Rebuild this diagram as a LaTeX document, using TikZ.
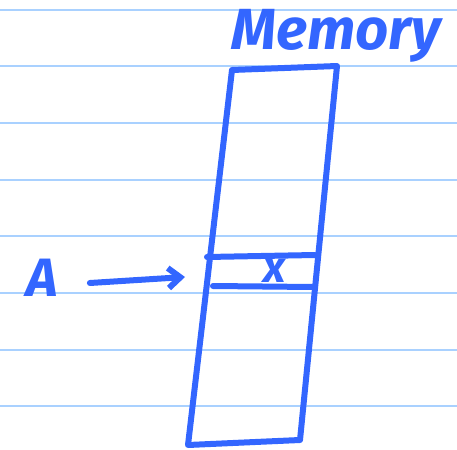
\documentclass[tikz,border=0pt]{standalone}
\usepackage{fontspec}
\newfontfamily\handfont{Fira Sans}
\usetikzlibrary{arrows.meta, positioning, calc}
\definecolor{inkblue}{HTML}{3366FF}
\definecolor{ruleblue}{HTML}{A9D1FF}

\begin{document}
\begin{tikzpicture}[x=1pt, y=-1pt, line cap=round, line join=round,
    ink/.style={inkblue, line width=6pt},
    hand/.style={inkblue, inner sep=0pt}]
  \useasboundingbox (0,0) rectangle (457,449);
  % ruled paper
  \foreach \y in {10, 66.5, 123, 179.5, 236, 293, 349.5, 406}
    \draw[ruleblue, line width=2pt] (0,\y) -- (457,\y);
  % memory column
  \coordinate (tl) at (232,70);
  \coordinate (tr) at (337,66);
  \coordinate (br) at (300,440);
  \coordinate (bl) at (188,445);
  \draw[ink] (tl) -- (tr) -- (br) -- (bl) -- cycle;
  % the cell holding x
  \draw[ink] (207,257) -- (315,255);
  \draw[ink] (213,286) -- (312,287);
  \node[hand, font=\handfont\itshape\bfseries\fontsize{44}{44}\selectfont] (x) at (275,271) {x};
  \coordinate (cellin) at (185,277);
  % labels
  \node[hand, font=\handfont\itshape\bfseries\fontsize{58}{58}\selectfont] (memory) at (336,36) {Memory};
  \node[hand, font=\handfont\itshape\bfseries\fontsize{54}{54}\selectfont] (A) at (42,278) {A};
  \draw[ink, -{Straight Barb[length=12pt, width=20pt, line width=6pt]}]
    (A.east) ++(32,5) coordinate (atail) (atail) -- (cellin);
\end{tikzpicture}
\end{document}
